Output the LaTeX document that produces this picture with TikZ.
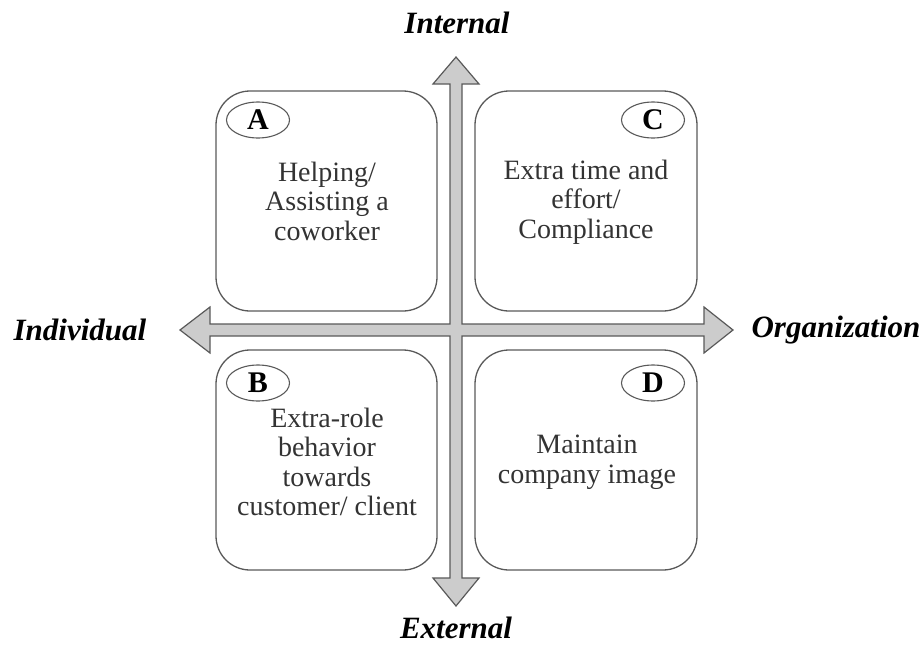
\documentclass[tikz,border=0pt]{standalone}
\usepackage{fontspec}
\setmainfont{Liberation Serif}
\usetikzlibrary{shapes.geometric}
\definecolor{arrowfill}{gray}{0.80}
\definecolor{edgegray}{gray}{0.35}
\tikzset{
  quadbox/.style={draw=edgegray, line width=1.3pt, rounded corners=34pt},
  boxtext/.style={align=center, text=black!80, inner sep=0pt,
    font=\fontsize{28}{29.5}\selectfont},
  tag/.style={ellipse, draw=edgegray, line width=1.1pt, minimum width=63pt,
    minimum height=36pt, inner sep=0pt, font=\fontsize{30}{30}\selectfont\bfseries},
  axislabel/.style={font=\fontsize{31}{31}\selectfont\bfseries\itshape, inner sep=0pt},
  crossarrow/.style={fill=arrowfill, draw=edgegray, line width=1.2pt, line join=miter}
}
\begin{document}
\begin{tikzpicture}[x=1pt, y=-1pt]
\useasboundingbox (0,0) rectangle (924,645);

% four-headed cross of arrows
\draw[crossarrow]
  (456,57) -- (479,84) -- (462,84) -- (462,324) -- (704,324) -- (704,307)
  -- (733,330) -- (704,353) -- (704,336) -- (462,336) -- (462,578)
  -- (479,578) -- (456,606) -- (433,578) -- (450,578) -- (450,336)
  -- (210,336) -- (210,353) -- (180,330) -- (210,307) -- (210,324)
  -- (450,324) -- (450,84) -- (433,84) -- cycle;

% quadrant boxes
\draw[quadbox] (216,91) rectangle (437,311);
\draw[quadbox] (475,91) rectangle (697,311);
\draw[quadbox] (216,350) rectangle (437,570);
\draw[quadbox] (475,350) rectangle (697,570);

% letter tags
\node[tag] (tA) at (258,120) {A};
\node[tag] (tC) at (653,120) {C};
\node[tag] (tB) at (258,383) {B};
\node[tag] (tD) at (653,383) {D};

% quadrant contents
\node[boxtext] (qA) at (327,201) {Helping/\\Assisting a\\coworker};
\node[boxtext] (qC) at (586,202) {Extra time and\\effort/\\Compliance};
\node[boxtext] (qB) at (327,462) {Extra-role\\behavior\\towards\\customer/ client};
\node[boxtext] (qD) at (587,462) {Maintain\\company image};

% axis labels
\node[axislabel, anchor=base] (internal) at (457,33) {Internal};
\node[axislabel, anchor=base] (external) at (456,638) {External};
\node[axislabel] (individual) at (80,330) {Individual};
\node[axislabel] (organization) at (836,330) {Organization};
\end{tikzpicture}
\end{document}
